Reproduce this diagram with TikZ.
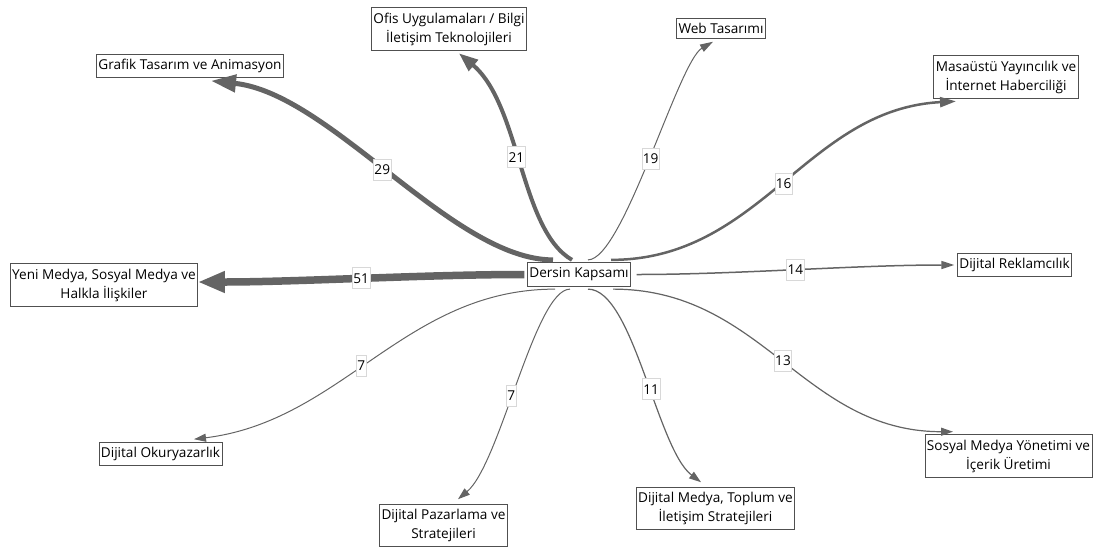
\documentclass[tikz,border=0pt]{standalone}
\usepackage{fontspec}
\setmainfont{Open Sans}
\usetikzlibrary{positioning, arrows.meta}

\definecolor{edgegray}{HTML}{646464}
\definecolor{boxgray}{HTML}{505050}
\definecolor{lblgray}{HTML}{D8D8D8}

\begin{document}
\begin{tikzpicture}[x=1pt,y=-1pt,on grid,
    box/.style={draw=boxgray,fill=white,line width=0.8pt,align=center,inner xsep=2pt,inner ysep=5pt,outer sep=3pt,font=\fontsize{13.6}{19}\selectfont},
    lbl/.style={draw=lblgray,fill=white,line width=0.6pt,inner xsep=1pt,inner ysep=1pt,minimum height=21pt,font=\fontsize{13.6}{15}\selectfont},
    w/.style n args={3}{draw=edgegray,line width=#1,-{Triangle[length=#2,width=#3]}}]

   \useasboundingbox (0,0) rectangle (1093,550);

   \node[box] (kapsam) at (579,274.5) {Dersin Kapsamı};
   \node[box] (grafik)   [above left=208.5pt and 389pt of kapsam]  {Grafik Tasarım ve Animasyon};
   \node[box] (ofis)     [above left=245.5pt and 130pt of kapsam]  {Ofis Uygulamaları / Bilgi\\İletişim Teknolojileri};
   \node[box] (web)      [above right=246pt and 142pt of kapsam]   {Web Tasarımı};
   \node[box] (masaustu) [above right=197.5pt and 427pt of kapsam] {Masaüstü Yayıncılık ve\\İnternet Haberciliği};
   \node[box] (reklam)   [above right=9.5pt and 435.5pt of kapsam] {Dijital Reklamcılık};
   \node[box] (yeni)     [below left=10.5pt and 475pt of kapsam]   {Yeni Medya, Sosyal Medya ve\\Halkla İlişkiler};
   \node[box] (okur)     [below left=179.5pt and 418.5pt of kapsam] {Dijital Okuryazarlık};
   \node[box] (pazar)    [below left=251pt and 135.5pt of kapsam]  {Dijital Pazarlama ve\\Stratejileri};
   \node[box] (medya)    [below right=234pt and 136.5pt of kapsam] {Dijital Medya, Toplum ve\\İletişim Stratejileri};
   \node[box] (sosyal)   [below right=181.5pt and 429.5pt of kapsam] {Sosyal Medya Yönetimi ve\\İçerik Üretimi};

   \draw[w={5pt}{25pt}{17pt}] ([xshift=-26pt]kapsam.north) .. controls +(180:100pt) and +(-6:120pt) .. node[lbl,pos=0.52]{29} ([xshift=21pt]grafik.south);
   \draw[w={4pt}{19pt}{14pt}] ([xshift=-7pt]kapsam.north) .. controls +(150:60pt) and +(-40:80pt) .. node[lbl,pos=0.53]{21} ([xshift=10pt]ofis.south);
   \draw[w={1pt}{13pt}{8pt}] ([xshift=9pt]kapsam.north) .. controls +(0:35pt) and +(210:40pt) .. node[lbl,pos=0.5]{19} ([xshift=-8pt]web.south);
   \draw[w={2.5pt}{16pt}{10pt}] ([xshift=32pt]kapsam.north) .. controls +(0:150pt) and +(183:150pt) .. node[lbl]{16} ([xshift=-50pt]masaustu.south);
   \draw[w={1.5pt}{13pt}{8pt}] ([xshift=3pt]kapsam.east) .. controls +(0:100pt) and +(180:100pt) .. node[lbl]{14} (reklam.west);
   \draw[w={7.5pt}{27pt}{20pt}] (kapsam.west) .. controls +(180:100pt) and +(0:100pt) .. node[lbl]{51} ([xshift=-3pt,yshift=3pt]yeni.east);
   \draw[w={1.2pt}{12pt}{8pt}] ([xshift=34pt]kapsam.south) .. controls +(0:150pt) and +(180:150pt) .. node[lbl]{13} ([xshift=-55.5pt]sosyal.north);
   \draw[w={1.2pt}{12pt}{8pt}] ([xshift=9pt]kapsam.south) .. controls +(0:45pt) and +(143:55pt) .. node[lbl,pos=0.56]{11} ([xshift=-14.5pt,yshift=2pt]medya.north);
   \draw[w={1pt}{12pt}{8pt}] ([xshift=-9pt]kapsam.south) .. controls +(180:35pt) and +(40:55pt) .. node[lbl,pos=0.55]{7} ([xshift=14.5pt,yshift=2pt]pazar.north);
   \draw[w={1pt}{12pt}{8pt}] ([xshift=-24pt]kapsam.south) .. controls +(180:150pt) and +(7:150pt) .. node[lbl,pos=0.54]{7} ([xshift=33.5pt]okur.north);

\end{tikzpicture}
\end{document}
